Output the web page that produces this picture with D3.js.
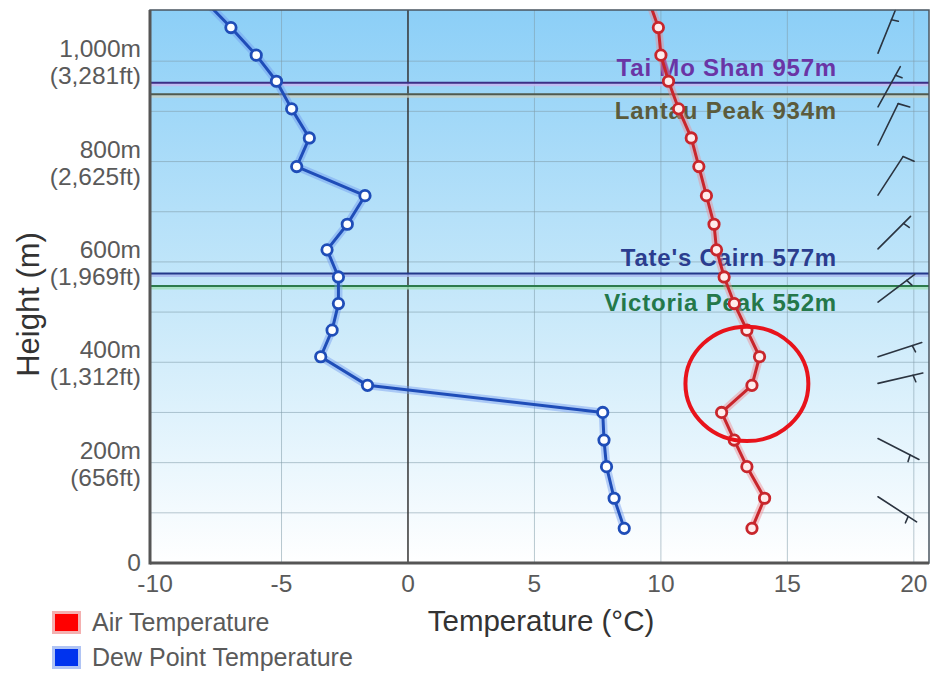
<!DOCTYPE html>
<html>
<head>
<meta charset="utf-8">
<script src="https://cdn.jsdelivr.net/npm/d3@7"></script>
<style>
  body { margin: 0; background: #fff; }
  svg { display: block; font-family: Arial, "Liberation Sans", sans-serif; }
</style>
</head>
<body>
<div id="chart"></div>
<script>
// ----------------------------
// DATA (read off the sounding)
// ----------------------------
const heights   = [1124, 1067, 1012, 960, 905, 847, 790, 732, 675, 624, 570, 517, 464, 411, 354, 300, 245, 192, 129, 69];
const airTemp   = [9.5, 9.9, 10.0, 10.3, 10.7, 11.2, 11.5, 11.8, 12.1, 12.2, 12.5, 12.9, 13.4, 13.9, 13.6, 12.4, 12.9, 13.4, 14.1, 13.6];
const dewPoint  = [-8.1, -7.0, -6.0, -5.2, -4.6, -3.9, -4.4, -1.7, -2.4, -3.2, -2.75, -2.75, -3.0, -3.45, -1.6, 7.7, 7.75, 7.85, 8.15, 8.55];

const windHeights = [1016, 909, 833, 733, 626, 520, 411, 358, 248, 132];
const windDir     = [22, 29, 26, 33, 45, 53, 72, 77, 117, 123];
const windSpeed   = [5, 5, 10, 10, 5, 5, 5, 5, 5, 5];

const peakNames   = ["Tai Mo Shan", "Lantau Peak", "Tate's Cairn", "Victoria Peak"];
const peakHeights = [957, 934, 577, 552];

const xTicks = [-10, -5, 0, 5, 10, 15, 20];
const yTicks = [0, 200, 400, 600, 800, 1000];
const yGrid  = [100, 200, 300, 400, 500, 600, 700, 800, 900, 1000];

const seriesNames = ["Air Temperature", "Dew Point Temperature"];

// ----------------------------
// SETUP
// ----------------------------
const width = 933, height = 673;
const plot = { left: 150, right: 929, top: 10, bottom: 563 };

const svg = d3.select("#chart").append("svg")
  .attr("width", width)
  .attr("height", height);

const x = d3.scaleLinear().domain([-10.2, 20.6]).range([plot.left, plot.right]);
const y = d3.scaleLinear().domain([0, 1102]).range([plot.bottom, plot.top]);

const defs = svg.append("defs");
const grad = defs.append("linearGradient")
  .attr("id", "sky").attr("x1", 0).attr("y1", 0).attr("x2", 0).attr("y2", 1);
grad.append("stop").attr("offset", "0%").attr("stop-color", "#8ccff7");
grad.append("stop").attr("offset", "55%").attr("stop-color", "#c9e9fa");
grad.append("stop").attr("offset", "100%").attr("stop-color", "#ffffff");

defs.append("clipPath").attr("id", "clip")
  .append("rect")
  .attr("x", plot.left).attr("y", plot.top)
  .attr("width", plot.right - plot.left).attr("height", plot.bottom - plot.top);

svg.append("rect")
  .attr("x", plot.left).attr("y", plot.top)
  .attr("width", plot.right - plot.left).attr("height", plot.bottom - plot.top)
  .attr("fill", "url(#sky)");

// ----------------------------
// GRID
// ----------------------------
svg.append("g").selectAll("line")
  .data(yGrid)
  .join("line")
  .attr("x1", plot.left).attr("x2", plot.right)
  .attr("y1", d => y(d)).attr("y2", d => y(d))
  .attr("stroke", "#7f9aa8").attr("stroke-opacity", 0.55).attr("stroke-width", 1);

svg.append("g").selectAll("line")
  .data(xTicks.filter(d => d !== -10))
  .join("line")
  .attr("x1", d => x(d)).attr("x2", d => x(d))
  .attr("y1", plot.top).attr("y2", plot.bottom)
  .attr("stroke", d => d === 0 ? "#333" : "#7f9aa8")
  .attr("stroke-opacity", d => d === 0 ? 1 : 0.55)
  .attr("stroke-width", d => d === 0 ? 1.5 : 1);

// ----------------------------
// PEAK REFERENCE LINES + LABELS
// ----------------------------
const peakLine = ["#3b2f86", "#4f5a4f", "#23388a", "#2c7a4c"];
const peakGlow = ["#c9b6f0", "#c8d0c0", "#a9b8ef", "#9fe0b8"];
const peakText = ["#6a35a5", "#5b5b3c", "#2b3d8f", "#24784a"];

const peaks = svg.append("g");
peakHeights.forEach((h, i) => {
  peaks.append("line")
    .attr("x1", plot.left).attr("x2", plot.right)
    .attr("y1", y(h) + 1.5).attr("y2", y(h) + 1.5)
    .attr("stroke", peakGlow[i]).attr("stroke-width", 4).attr("stroke-opacity", 0.8);
  peaks.append("line")
    .attr("x1", plot.left).attr("x2", plot.right)
    .attr("y1", y(h)).attr("y2", y(h))
    .attr("stroke", peakLine[i]).attr("stroke-width", 2);
  peaks.append("text")
    .attr("x", plot.right - 92)
    .attr("y", i % 2 === 0 ? y(h) - 7 : y(h) + 25)
    .attr("text-anchor", "end")
    .attr("font-size", "24px")
    .attr("font-weight", "bold")
    .attr("letter-spacing", "0.8px")
    .attr("fill", peakText[i])
    .text(`${peakNames[i]} ${h}m`);
});

// ----------------------------
// SERIES
// ----------------------------
const line = d3.line()
  .x(d => x(d.t))
  .y(d => y(d.h));

const series = [
  { name: seriesNames[0], values: heights.map((h, i) => ({ h, t: airTemp[i] })),
    color: "#c8262c", glow: "#f08a90", fill: "#ffecec" },
  { name: seriesNames[1], values: heights.map((h, i) => ({ h, t: dewPoint[i] })),
    color: "#1f4db8", glow: "#6f9af0", fill: "#ffffff" }
];

const plotG = svg.append("g").attr("clip-path", "url(#clip)");

series.forEach(s => {
  plotG.append("path")
    .attr("d", line(s.values))
    .attr("fill", "none")
    .attr("stroke", s.glow).attr("stroke-opacity", 0.45)
    .attr("stroke-width", 8).attr("stroke-linejoin", "round");
  plotG.append("path")
    .attr("d", line(s.values))
    .attr("fill", "none")
    .attr("stroke", s.color)
    .attr("stroke-width", 3).attr("stroke-linejoin", "round");
  plotG.append("g").selectAll("circle")
    .data(s.values)
    .join("circle")
    .attr("cx", d => x(d.t)).attr("cy", d => y(d.h))
    .attr("r", 5.2)
    .attr("fill", s.fill)
    .attr("stroke", s.color).attr("stroke-width", 2.8);
});

// ----------------------------
// WIND BARBS
// ----------------------------
const barbs = svg.append("g")
  .attr("stroke", "#2b3440").attr("stroke-width", 1.6).attr("stroke-linecap", "round");
const staff = 46;
const rad = a => a * Math.PI / 180;

windHeights.forEach((h, i) => {
  const x0 = plot.right - 51, y0 = y(h);
  const a = rad(windDir[i]);
  const ux = Math.sin(a), uy = -Math.cos(a);
  const x1 = x0 + staff * ux, y1 = y0 + staff * uy;
  barbs.append("line").attr("x1", x0).attr("y1", y0).attr("x2", x1).attr("y2", y1);

  const b = rad(windDir[i] + 80);
  const bx = Math.sin(b), by = -Math.cos(b);
  if (windSpeed[i] >= 10) {
    barbs.append("line")
      .attr("x1", x1).attr("y1", y1)
      .attr("x2", x1 + 12 * bx).attr("y2", y1 + 12 * by);
  } else {
    const sx = x1 - 10 * ux, sy = y1 - 10 * uy;
    barbs.append("line")
      .attr("x1", sx).attr("y1", sy)
      .attr("x2", sx + 7 * bx).attr("y2", sy + 7 * by);
  }
});

// ----------------------------
// FRAME
// ----------------------------
svg.append("rect")
  .attr("x", plot.left).attr("y", plot.top)
  .attr("width", plot.right - plot.left).attr("height", plot.bottom - plot.top)
  .attr("fill", "none").attr("stroke", "#4a5660").attr("stroke-width", 1.5);

svg.append("line")
  .attr("x1", plot.left).attr("x2", plot.left)
  .attr("y1", plot.top).attr("y2", plot.bottom + 1.5)
  .attr("stroke", "#555").attr("stroke-width", 3);
svg.append("line")
  .attr("x1", plot.left).attr("x2", plot.right)
  .attr("y1", plot.bottom).attr("y2", plot.bottom)
  .attr("stroke", "#555").attr("stroke-width", 3);

// ----------------------------
// AXIS LABELS
// ----------------------------
const tickStyle = sel => sel.attr("font-size", "24.5px").attr("fill", "#5a5a5a");
const fmt = d3.format(",");

svg.append("g").selectAll("text")
  .data(xTicks)
  .join("text")
  .attr("x", d => x(d)).attr("y", plot.bottom + 29)
  .attr("text-anchor", "middle")
  .call(tickStyle)
  .text(d => d);

const yLab = svg.append("g").selectAll("g")
  .data(yTicks)
  .join("g");

yLab.append("text")
  .attr("x", plot.left - 9)
  .attr("y", d => d === 0 ? y(d) + 8 : y(d) - 4)
  .attr("text-anchor", "end")
  .call(tickStyle)
  .text(d => d === 0 ? "0" : `${fmt(d)}m`);

yLab.filter(d => d !== 0).append("text")
  .attr("x", plot.left - 9)
  .attr("y", d => y(d) + 23)
  .attr("text-anchor", "end")
  .call(tickStyle)
  .text(d => `(${fmt(Math.round(d * 3.28084))}ft)`);

svg.append("text")
  .attr("transform", `translate(39, ${(plot.top + plot.bottom) / 2 + 18}) rotate(-90)`)
  .attr("text-anchor", "middle")
  .attr("font-size", "31px")
  .attr("fill", "#333")
  .text("Height (m)");

svg.append("text")
  .attr("x", 541).attr("y", 631)
  .attr("text-anchor", "middle")
  .attr("font-size", "29.5px")
  .attr("fill", "#333")
  .text("Temperature (°C)");

// ----------------------------
// LEGEND
// ----------------------------
const legend = svg.append("g").attr("transform", "translate(52, 611)");
const legendItems = legend.selectAll("g")
  .data(series)
  .join("g")
  .attr("transform", (_, i) => `translate(0, ${i * 35})`);

legendItems.append("rect")
  .attr("x", 1.5).attr("y", 1.5)
  .attr("width", 26).attr("height", 20)
  .attr("fill", d => d.name === seriesNames[0] ? "#ff0000" : "#0033ee")
  .attr("stroke", d => d.name === seriesNames[0] ? "#f4b0b0" : "#b0c4f4")
  .attr("stroke-width", 3);

legendItems.append("text")
  .attr("x", 40).attr("y", 20)
  .attr("font-size", "25px")
  .attr("fill", "#5a5a5a")
  .text(d => d.name);

// ----------------------------
// ANNOTATION CIRCLE
// ----------------------------
const mark = { t: 13.4, h: 357, dt: 2.43, dh: 114 };
svg.append("ellipse")
  .attr("cx", x(mark.t)).attr("cy", y(mark.h))
  .attr("rx", x(mark.t + mark.dt) - x(mark.t))
  .attr("ry", y(mark.h - mark.dh) - y(mark.h))
  .attr("fill", "none")
  .attr("stroke", "#e8131b")
  .attr("stroke-width", 4);
</script>
</body>
</html>
